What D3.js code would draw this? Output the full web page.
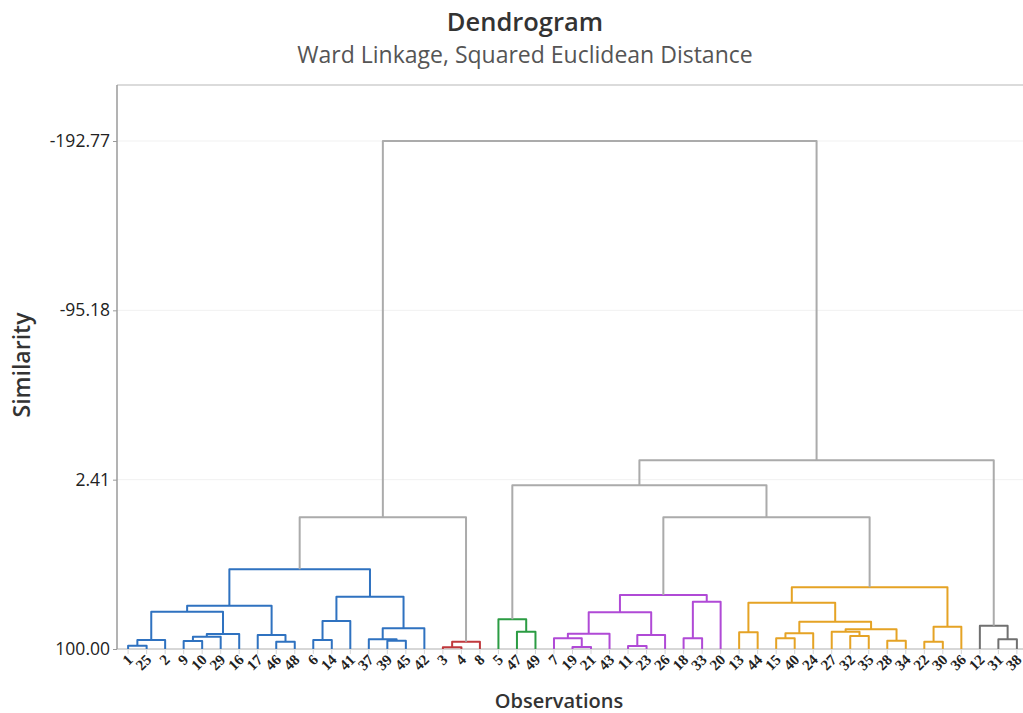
<!DOCTYPE html>
<html>
<head>
<meta charset="utf-8">
<script src="https://cdn.jsdelivr.net/npm/d3@7"></script>
<style>
  body { margin: 0; background: #fff; }
  svg { display: block; font-family: "Open Sans", "Noto Sans", sans-serif; }
</style>
</head>
<body>
<svg id="chart" width="1023" height="713"></svg>
<script>
// leaf order along the x axis
var observations = ["1","25","2","9","10","29","16","17","46","48","6","14","41","37","39","45","42",
  "3","4","8","5","47","49","7","19","21","43","11","23","26","18","33","20",
  "13","44","15","40","24","27","32","35","28","34","22","30","36","12","31","38"];

// merges: [id, left, right, similarity]
var merges = [
  ["b1","1","25",98.10], ["b2","b1","2",94.81], ["b3","9","10",95.39], ["b4","b3","29",92.91],
  ["b5","b4","16",91.36], ["b6","b2","b5",78.50], ["b7","46","48",95.79], ["b8","17","b7",91.93],
  ["b9","b6","b8",75.05], ["b10","6","14",94.81], ["b11","b10","41",83.86], ["b12","39","45",95.22],
  ["b13","37","b12",94.41], ["b14","b13","42",88.07], ["b15","b11","b14",69.86], ["b16","b9","b15",54.07],
  ["r1","3","4",99.02], ["r2","r1","8",95.79],
  ["g1","b16","r2",24.10],
  ["n1","47","49",90.03], ["n2","5","n1",82.88],
  ["p1","19","21",98.85], ["p2","7","p1",93.83], ["p3","p2","43",91.18], ["p4","11","23",98.27],
  ["p5","p4","26",91.93], ["p6","p3","p5",78.85], ["p7","18","33",93.83], ["p8","p7","20",72.74],
  ["p9","p6","p8",68.88],
  ["o1","13","44",90.38], ["o2","15","40",93.83], ["o3","o2","24",90.95], ["o4","32","35",92.51],
  ["o5","27","o4",90.03], ["o6","28","34",95.22], ["o7","o5","o6",88.65], ["o8","o3","o7",84.27],
  ["o9","o1","o8",73.32], ["o10","22","30",95.79], ["o11","o10","36",87.15], ["o12","o9","o11",64.44],
  ["k1","31","38",94.41], ["k2","12","k1",86.57],
  ["u1","p9","o12",24.10], ["u2","n2","u1",5.66], ["u3","u2","k2",-8.75],
  ["root","g1","u3",-192.77]
];

// final clusters (root merge of each)
var clusterRoots = ["b16","r2","n2","p9","o12","k2"];
var clusterColors = ["#2f72c0","#c0393d","#2b9c43","#b04ad6","#e5a325","#707070"];
var linkColor = "#ababab";

var yTicks = [100.00, 2.41, -95.18, -192.77];
var yTickLabels = ["100.00","2.41","-95.18","-192.77"];

var svg = d3.select("#chart"),
    plotLeft = 117, plotRight = 1028, plotTop = 85, plotBottom = 649;

var x = d3.scalePoint().domain(observations).range([plotLeft, plotRight]).padding(0.6);
var y = d3.scaleLinear().domain([100, -192.77]).range([plotBottom, 141]);

// build nodes
var nodes = {};
observations.forEach(function(o) { nodes[o] = {id: o, x: x(o), y: y(100), leaf: true}; });
merges.forEach(function(m) {
  var a = nodes[m[1]], b = nodes[m[2]];
  nodes[m[0]] = {id: m[0], left: a, right: b, x: (a.x + b.x) / 2, y: y(m[3])};
});

// colour each node by its cluster
function paint(n, c) {
  n.color = c;
  if (!n.leaf) { paint(n.left, c); paint(n.right, c); }
}
merges.forEach(function(m) { nodes[m[0]].color = linkColor; });
clusterRoots.forEach(function(r, i) { paint(nodes[r], clusterColors[i]); });

// grid
svg.append("g").selectAll("line")
  .data(yTicks)
  .enter().append("line")
    .attr("x1", plotLeft).attr("x2", 1023)
    .attr("y1", function(d) { return y(d); }).attr("y2", function(d) { return y(d); })
    .attr("stroke", "#f1f1f1").attr("stroke-width", 1);

// frame
svg.append("line").attr("x1", plotLeft).attr("x2", 1023).attr("y1", plotTop).attr("y2", plotTop)
  .attr("stroke", "#cfcfcf").attr("stroke-width", 1.5);

// x axis baseline and ticks
svg.append("line").attr("x1", plotLeft).attr("x2", 1023).attr("y1", plotBottom).attr("y2", plotBottom)
  .attr("stroke", "#cccccc").attr("stroke-width", 1.5);
svg.append("g").selectAll("line")
  .data(observations)
  .enter().append("line")
    .attr("x1", function(d) { return x(d); }).attr("x2", function(d) { return x(d); })
    .attr("y1", plotBottom).attr("y2", plotBottom + 5)
    .attr("stroke", "#d4d4d4");

// links
var linkNodes = merges.map(function(m) { return nodes[m[0]]; });
svg.append("g")
    .attr("fill", "none")
    .attr("stroke-width", 2)
  .selectAll("path")
  .data(linkNodes)
  .enter().append("path")
    .attr("stroke", function(d) { return d.color; })
    .attr("stroke-linejoin", "round")
    .attr("d", function(d) {
      return "M" + d.left.x + "," + d.left.y + "V" + d.y + "H" + d.right.x + "V" + d.right.y;
    });

// y axis
var yAxis = svg.append("g")
    .attr("transform", "translate(" + plotLeft + ",0)")
    .call(d3.axisLeft(y).tickValues(yTicks).tickSize(4).tickPadding(3)
      .tickFormat(function(d, i) { return yTickLabels[i]; }));
yAxis.select(".domain").attr("stroke", "#9a9a9a").attr("stroke-width", 1.5)
  .attr("d", "M0," + plotTop + "V" + plotBottom);
yAxis.selectAll(".tick line").attr("stroke", "#9a9a9a");
yAxis.selectAll(".tick text").attr("font-size", 17.5).attr("fill", "#222")
  .attr("font-family", "'Open Sans', sans-serif");

// x labels
svg.append("g").selectAll("text")
  .data(observations)
  .enter().append("text")
    .attr("transform", function(d) { return "translate(" + (x(d) + 2) + "," + (plotBottom + 8) + ") rotate(-45)"; })
    .attr("text-anchor", "end")
    .attr("dy", "0.35em")
    .attr("font-family", "'Liberation Serif', serif")
    .attr("font-weight", "bold")
    .attr("font-size", 15)
    .attr("fill", "#222")
    .text(function(d) { return d; });

// titles
svg.append("text").attr("x", 525).attr("y", 31).attr("text-anchor", "middle")
  .attr("font-size", 25.5).attr("font-weight", 600).attr("fill", "#333").text("Dendrogram");
svg.append("text").attr("x", 525).attr("y", 63).attr("text-anchor", "middle")
  .attr("font-size", 23).attr("fill", "#555").text("Ward Linkage, Squared Euclidean Distance");
svg.append("text").attr("transform", "translate(30,365) rotate(-90)").attr("text-anchor", "middle")
  .attr("font-size", 23).attr("font-weight", 600).attr("fill", "#333").text("Similarity");
svg.append("text").attr("x", 559).attr("y", 708).attr("text-anchor", "middle")
  .attr("font-size", 20).attr("font-weight", 600).attr("fill", "#333").text("Observations");
</script>
</body>
</html>
